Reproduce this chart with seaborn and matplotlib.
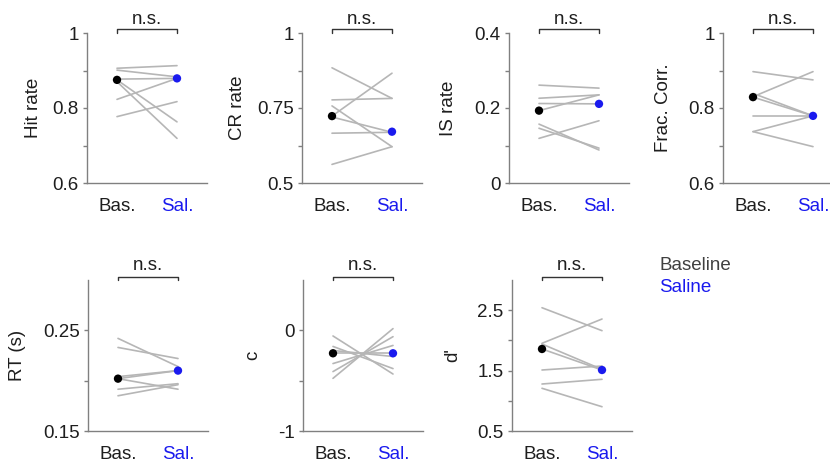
import numpy as np
import pandas as pd
import matplotlib
matplotlib.use("Agg")
import matplotlib.pyplot as plt
import matplotlib.transforms as mtrans
import seaborn as sns

# ---------------- data ----------------
conditions = ["Bas.", "Sal."]
legend_labels = ["Baseline", "Saline"]

hit_bas = [0.906, 0.901, 0.877, 0.823, 0.875, 0.870, 0.777]
hit_sal = [0.913, 0.883, 0.879, 0.879, 0.763, 0.719, 0.817]
hit_med = [0.875, 0.879]

cr_bas = [0.884, 0.777, 0.723, 0.720, 0.757, 0.666, 0.562]
cr_sal = [0.782, 0.782, 0.866, 0.669, 0.621, 0.669, 0.621]
cr_med = [0.723, 0.671]

is_bas = [0.261, 0.226, 0.193, 0.212, 0.157, 0.146, 0.119]
is_sal = [0.253, 0.235, 0.235, 0.211, 0.088, 0.093, 0.166]
is_med = [0.193, 0.211]

fc_bas = [0.897, 0.830, 0.839, 0.829, 0.779, 0.737, 0.737]
fc_sal = [0.875, 0.897, 0.779, 0.779, 0.779, 0.779, 0.697]
fc_med = [0.829, 0.779]

rt_bas = [0.242, 0.233, 0.202, 0.204, 0.202, 0.1915, 0.185]
rt_sal = [0.214, 0.222, 0.210, 0.210, 0.1915, 0.197, 0.196]
rt_med = [0.202, 0.210]

c_bas = [-0.056, -0.16, -0.228, -0.20, -0.477, -0.41, -0.33]
c_sal = [-0.434, -0.38, -0.228, -0.26, 0.017, -0.063, -0.15]
c_med = [-0.228, -0.228]

d_bas = [2.541, 1.952, 1.94, 1.858, 1.51, 1.278, 1.207]
d_sal = [2.161, 2.354, 1.52, 1.51, 1.576, 1.356, 0.902]
d_med = [1.858, 1.51]

ylabels = ["Hit rate", "CR rate", "IS rate", "Frac. Corr.", "RT (s)", "c", "d'"]
ylims = [(0.6, 1.0), (0.5, 1.0), (0.0, 0.4), (0.6, 1.0), (0.15, 0.30), (-1.0, 0.5), (0.5, 3.0)]
major_ticks = [[0.6, 0.8, 1.0], [0.5, 0.75, 1.0], [0.0, 0.2, 0.4], [0.6, 0.8, 1.0],
               [0.15, 0.25], [-1.0, 0.0], [0.5, 1.5, 2.5]]
major_labels = [["0.6", "0.8", "1"], ["0.5", "0.75", "1"], ["0", "0.2", "0.4"], ["0.6", "0.8", "1"],
                ["0.15", "0.25"], ["-1", "0"], ["0.5", "1.5", "2.5"]]
minor_ticks = [[0.7, 0.9], [0.625, 0.875], [0.1, 0.3], [0.7, 0.9], [0.2], [-0.5], [1.0, 2.0]]
sig_text = "n.s."

panels = [(hit_bas, hit_sal, hit_med), (cr_bas, cr_sal, cr_med), (is_bas, is_sal, is_med),
          (fc_bas, fc_sal, fc_med), (rt_bas, rt_sal, rt_med), (c_bas, c_sal, c_med),
          (d_bas, d_sal, d_med)]

# ---------------- style ----------------
sns.set_style("white")
plt.rcParams["font.family"] = ["Liberation Sans", "DejaVu Sans"]
FS = 13.5
plt.rcParams["font.size"] = FS

GRAY_LINE = "#b6b6b6"
AXIS_COL = "#808080"
TEXT_COL = "#1e1e1e"
BLUE = "#1a1aee"
cond_colors = {"Bas.": "#000000", "Sal.": BLUE}

W, H = 830, 466
fig = plt.figure(figsize=(W / 100, H / 100), dpi=100)

# layout in pixels: (left, top, height)
boxes = [(87, 33, 150), (302, 33, 150), (509, 33, 150), (723, 33, 150),
         (88, 280, 151), (303, 280, 151), (512, 280, 151)]
label_x_px = [33, 237, 448, 663, 17, 253, 453]
AX_W = 120

for i, ((bas, sal, med), (lft, top, h)) in enumerate(zip(panels, boxes)):
    ax = fig.add_axes([lft / W, 1 - (top + h) / H, AX_W / W, h / H])
    n = len(bas)
    df = pd.DataFrame({
        "subject": list(range(n)) * 2,
        "cond": ["Bas."] * n + ["Sal."] * n,
        "value": list(bas) + list(sal),
    })
    pos = {c: k + 1 for k, c in enumerate(conditions)}
    df["x"] = df["cond"].map(pos)
    sns.lineplot(data=df, x="x", y="value", units="subject", estimator=None,
                 color=GRAY_LINE, lw=1.2, ax=ax, legend=False, zorder=2)
    mdf = pd.DataFrame({"cond": conditions, "value": med})
    mdf["x"] = mdf["cond"].map(pos)
    sns.scatterplot(data=mdf, x="x", y="value", hue="cond", palette=cond_colors,
                    s=36, edgecolor="none", ax=ax, legend=False, zorder=3, clip_on=False)

    ax.set_xlim(0.5, 2.5)
    ax.set_ylim(*ylims[i])
    ax.set_xticks([1, 2])
    ax.set_xticklabels(conditions)
    for lab, c in zip(ax.get_xticklabels(), conditions):
        lab.set_color(TEXT_COL if c == "Bas." else BLUE)
    ax.tick_params(axis="x", length=0, pad=10.5, labelsize=FS)
    ax.set_yticks(major_ticks[i])
    ax.set_yticklabels(major_labels[i])
    ax.set_yticks(minor_ticks[i], minor=True)
    ax.tick_params(axis="y", which="both", direction="out", length=3, width=1,
                   color=AXIS_COL, pad=3, labelsize=FS, labelcolor=TEXT_COL, left=True)
    ax.set_xlabel("")
    ax.set_ylabel(ylabels[i], fontsize=FS, color=TEXT_COL, va="center", ha="center")
    ax.yaxis.set_label_coords((label_x_px[i] - lft) / AX_W, 0.5)

    for sp in ["top", "right"]:
        ax.spines[sp].set_visible(False)
    for sp in ["left", "bottom"]:
        ax.spines[sp].set_color(AXIS_COL)
        ax.spines[sp].set_linewidth(1.0)

    # significance bracket
    trans = mtrans.blended_transform_factory(ax.transData, ax.transAxes)
    y_br = 1 + 4 / h if top < 100 else 1 + 3.5 / h
    ax.plot([1, 1, 2, 2], [1.0, y_br, y_br, 1.0], transform=trans, color="#333333",
            lw=1.0, clip_on=False)
    y_txt = 1 + 8.5 / h if top < 100 else 1 + 10.5 / h
    ax.text(1.5, y_txt, sig_text, transform=trans, ha="center", va="baseline",
            fontsize=FS, color=TEXT_COL)

# legend text
fig.text(659 / W, 1 - 265 / H, legend_labels[0], ha="left", va="center", fontsize=FS, color="#404040")
fig.text(659 / W, 1 - 288 / H, legend_labels[1], ha="left", va="center", fontsize=FS, color=BLUE)

fig.savefig("out.png", dpi=100)
